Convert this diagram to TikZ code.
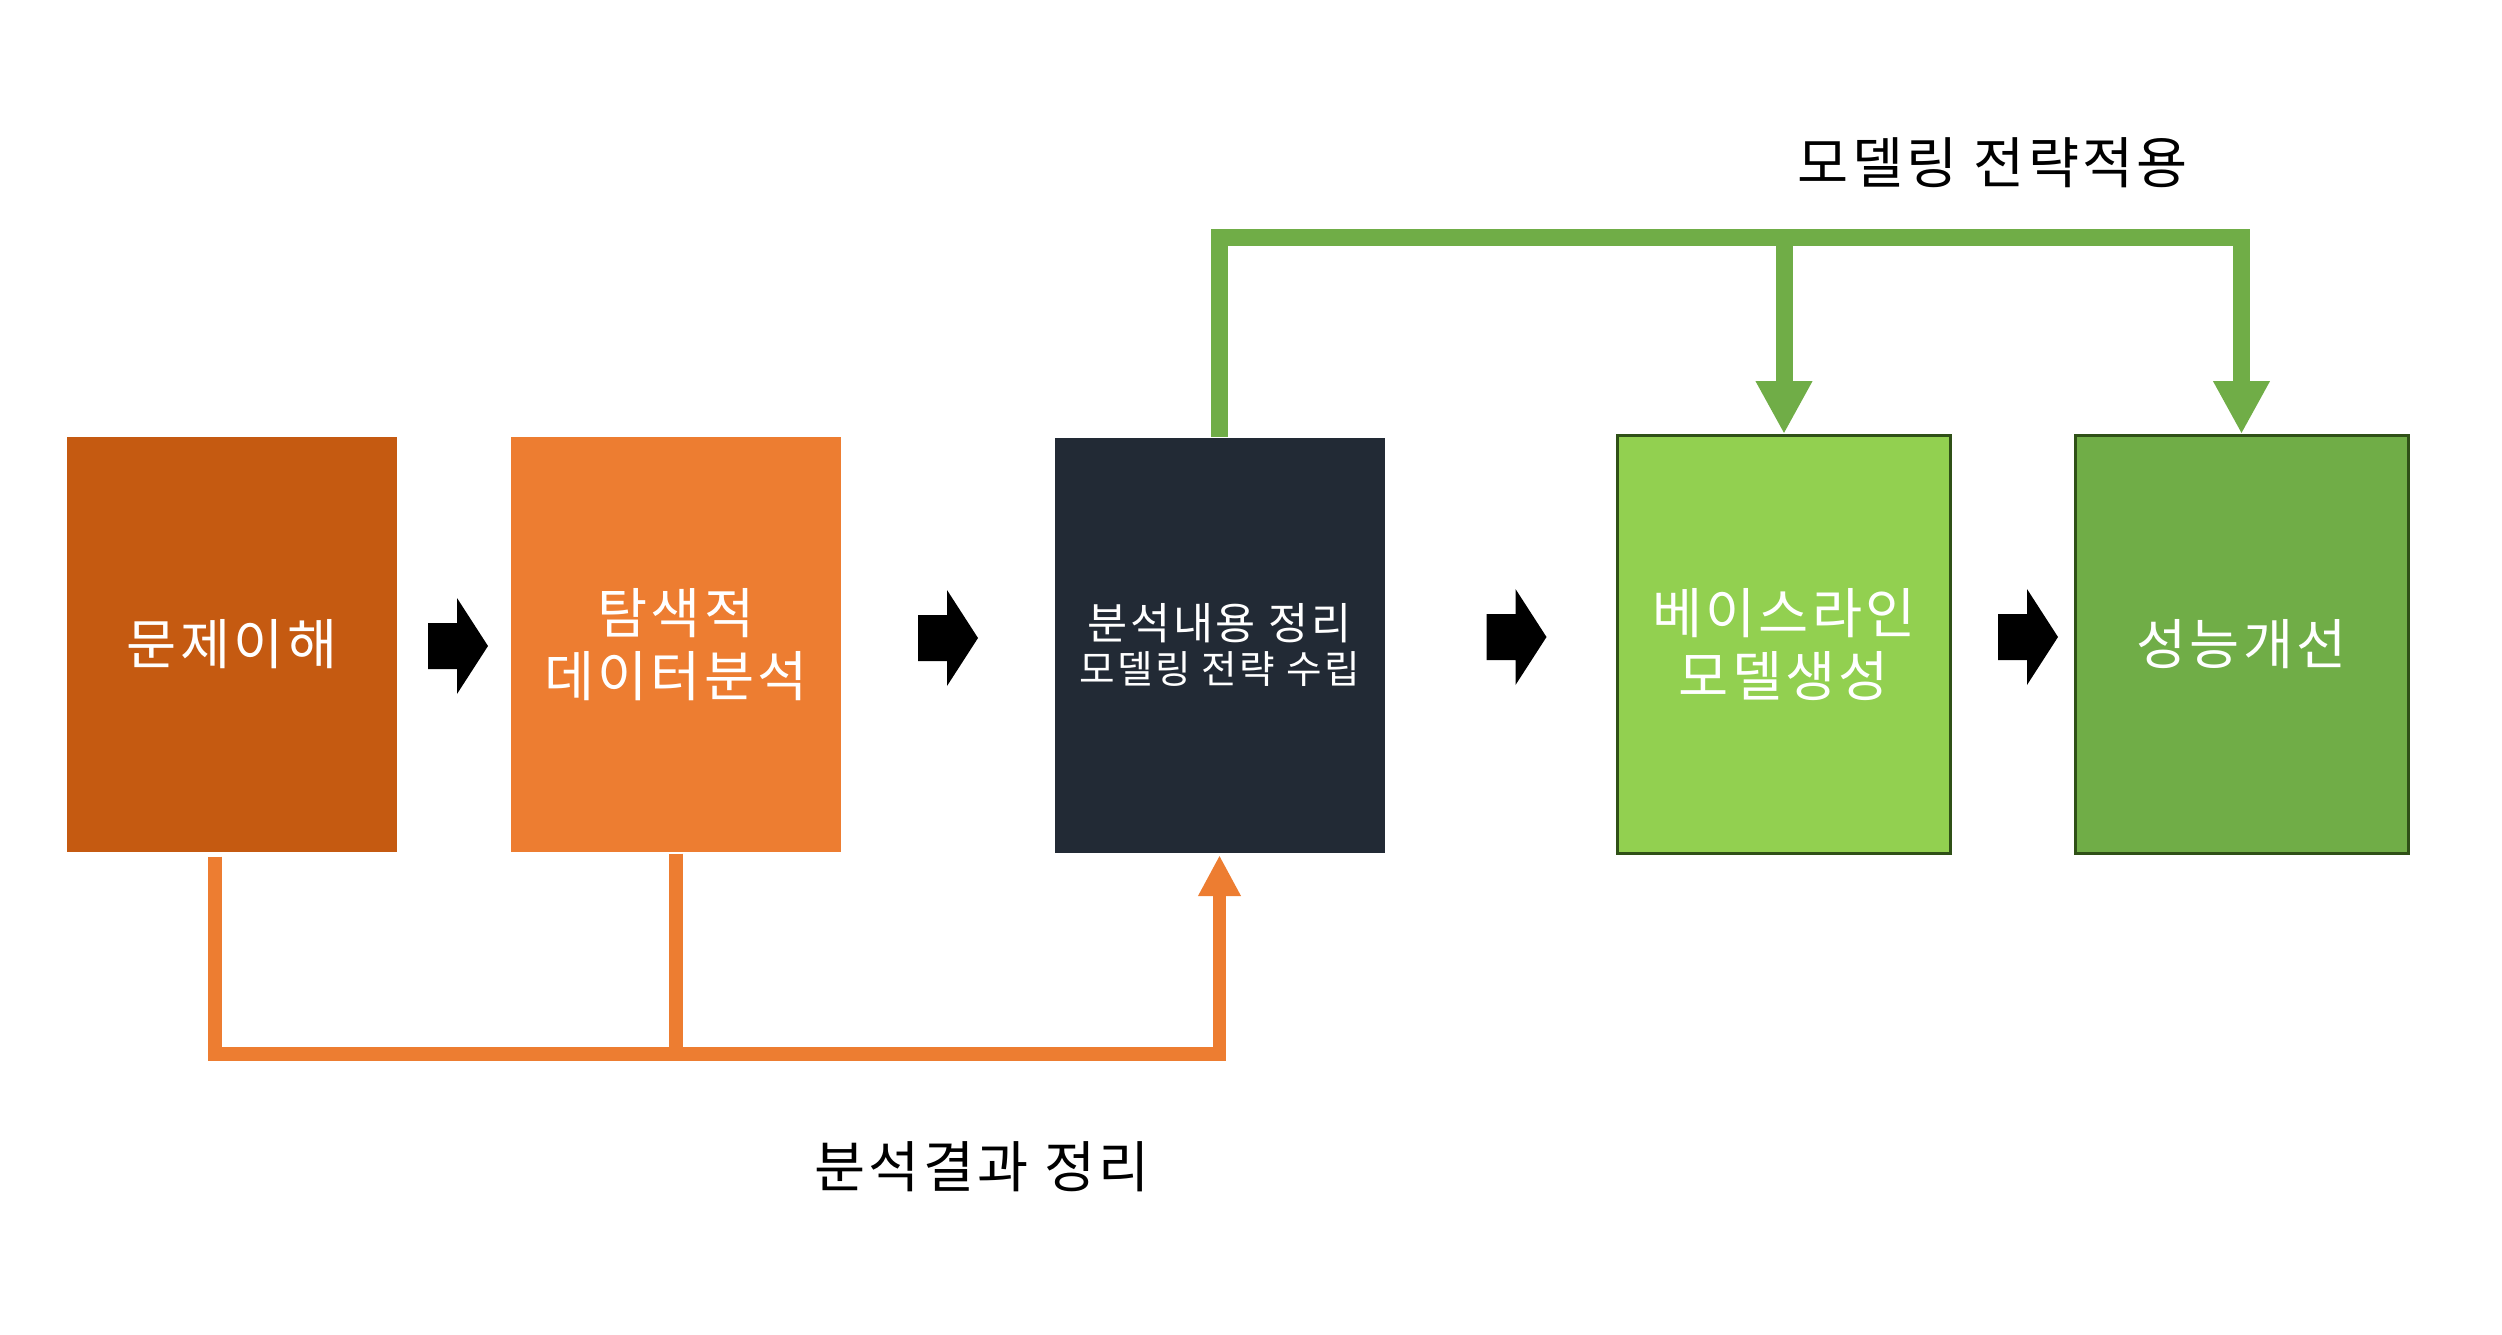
\documentclass[tikz,border=0pt]{standalone}
\usepackage{fontspec}
\setmainfont[LetterSpace=6]{Noto Sans CJK KR}
\usetikzlibrary{arrows.meta}

\definecolor{rust}{HTML}{C55A11}
\definecolor{tangerine}{HTML}{ED7D31}
\definecolor{navy}{HTML}{222A35}
\definecolor{lime}{HTML}{92D050}
\definecolor{leaf}{HTML}{70AD47}
\definecolor{forest}{HTML}{2F5017}

\tikzset{
	stage/.style={shape=rectangle, inner sep=0pt, minimum width=3.3cm, minimum height=4.15cm,
		text=white, align=center, font=\fontsize{15.5}{17.8}\selectfont},
	greenstage/.style={stage, draw=forest, line width=0.3mm, minimum width=3.33cm, minimum height=4.18cm},
	caption/.style={font=\fontsize{15.8}{18}\selectfont, text=black},
	orangeline/.style={draw=tangerine, line width=1.35mm, -{Triangle[width=4mm,length=4.1mm]}},
	greenline/.style={draw=leaf, line width=1.7mm, -{Triangle[width=5.3mm,length=5.3mm]}},
	blockarrow/.pic={\fill[black] (-30,-23) -- (-1,-23) -- (-1,-48) -- (30,0) -- (-1,48) -- (-1,23) -- (-30,23) -- cycle;}
}

\begin{document}
\begin{tikzpicture}[x=0.1mm, y=-0.1mm]
	\useasboundingbox (0,0) rectangle (2502,1335);

	\node[stage, fill=rust]        (b1) at (232, 644.5)    {문제이해};
	\node[stage, fill=tangerine]   (b2) at (676, 644.5)    {탐색적\\데이터분석};
	\node[stage, fill=navy, font=\fontsize{12.4}{12.6}\selectfont] (b3) at (1219.5, 645)
		{분석내용 정리\\\fontsize{11}{12.6}\selectfont 모델링 전략 수립};
	\node[greenstage, fill=lime]   (b4) at (1784, 644.5)   {베이스라인\\모델생성};
	\node[greenstage, fill=leaf]   (b5) at (2241.5, 644.5) {성능개선};

	\pic (a1) at (458, 646)    {blockarrow};
	\pic (a2) at (948, 638)    {blockarrow};
	\pic (a3) at (1516.5, 637) {blockarrow};
	\pic (a4) at (2028, 637)   {blockarrow};

	\coordinate (ojoin) at (1219.5, 1054);
	\coordinate (gjoin) at (2241.5, 237);

	\draw[orangeline] ([xshift=-1.7mm,yshift=-0.4mm]b1.south) |- (ojoin) -- ([yshift=-0.2mm]b3.south);
	\draw[orangeline, -] ([yshift=-0.1mm]b2.south) -- (b2.south |- ojoin);

	\draw[greenline] (b3.north) |- (gjoin) -- (b5.north);
	\draw[greenline] (b4.north |- gjoin) -- (b4.north);

	\node[caption] (modeling) at (1993, 163)  {모델링 전략적용};
	\node[caption] (summary)  at (982, 1167)  {분석결과 정리};
\end{tikzpicture}
\end{document}
